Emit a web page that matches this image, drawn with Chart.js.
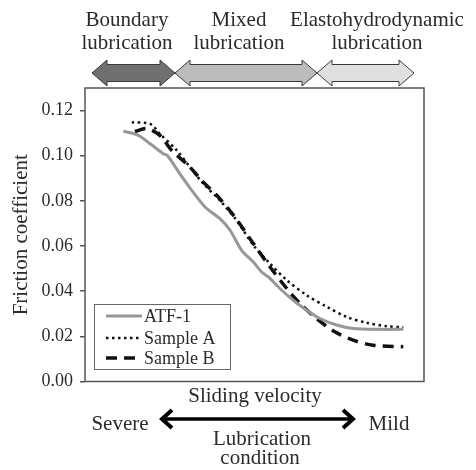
<!DOCTYPE html>
<html>
<head>
<meta charset="utf-8">
<script src="https://cdn.jsdelivr.net/npm/chart.js@4.4.0/dist/chart.umd.min.js"></script>
<style>
	html, body { margin: 0; padding: 0; background: #fff; }
	#wrap { width: 476px; height: 470px; }
</style>
</head>
<body>
<div id="wrap"><canvas id="chart" width="476" height="470"></canvas></div>
<script>
// Sliding velocity on an arbitrary 0-100 scale, friction coefficient
var atfX = [11.3, 15.7, 19.2, 23.1, 24.3, 28.0, 31.9, 35.4, 39.8, 42.8, 46.2, 49.6, 52.1, 54.1, 57.5, 61.4, 65.4, 69.3, 74.2, 79.1, 87.0, 93.9];
var atfY = [0.1109, 0.1090, 0.1053, 0.1009, 0.1001, 0.0920, 0.0839, 0.0773, 0.0721, 0.0670, 0.0581, 0.0530, 0.0485, 0.0463, 0.0412, 0.0360, 0.0316, 0.0279, 0.0250, 0.0235, 0.0231, 0.0231];

var sampleAX = [13.8, 19.2, 22.1, 27.1, 31.0, 34.9, 39.8, 44.7, 49.6, 54.6, 59.5, 65.4, 71.3, 77.2, 83.1, 89.0, 93.9];
var sampleAY = [0.1148, 0.1141, 0.1097, 0.1023, 0.0949, 0.0876, 0.0802, 0.0714, 0.0605, 0.0522, 0.0449, 0.0382, 0.0331, 0.0286, 0.0260, 0.0245, 0.0240];

var sampleBX = [14.7, 18.2, 22.1, 25.6, 30.5, 34.4, 39.3, 44.2, 49.6, 54.6, 59.5, 63.4, 68.3, 73.7, 79.1, 85.0, 93.9];
var sampleBY = [0.1107, 0.1120, 0.1090, 0.1023, 0.0957, 0.0891, 0.0817, 0.0728, 0.0612, 0.0507, 0.0412, 0.0346, 0.0279, 0.0220, 0.0183, 0.0161, 0.0154];

var seriesNames = ['ATF-1', 'Sample A', 'Sample B'];
var yTicks = [0, 0.02, 0.04, 0.06, 0.08, 0.10, 0.12];
var regimeLabels = [['Boundary', 'lubrication'], ['Mixed', 'lubrication'], ['Elastohydrodynamic', 'lubrication']];

var SERIF = "'Liberation Serif', 'Times New Roman', serif";
var TEXT = '#2b2b2b';

function pairs(xs, ys) {
	return xs.map(function (x, i) { return { x: x, y: ys[i] }; });
}

// ——— Decorations: frame, legend, regime arrows, bottom labels ———
function arrowPath(ctx, x0, x1, cy, shaftH, headH, headL) {
	ctx.beginPath();
	ctx.moveTo(x0, cy);
	ctx.lineTo(x0 + headL, cy - headH);
	ctx.lineTo(x0 + headL, cy - shaftH);
	ctx.lineTo(x1 - headL, cy - shaftH);
	ctx.lineTo(x1 - headL, cy - headH);
	ctx.lineTo(x1, cy);
	ctx.lineTo(x1 - headL, cy + headH);
	ctx.lineTo(x1 - headL, cy + shaftH);
	ctx.lineTo(x0 + headL, cy + shaftH);
	ctx.lineTo(x0 + headL, cy + headH);
	ctx.closePath();
}

var decor = {
	id: 'decor',
	afterDatasetsDraw: function (chart) {
		var ctx = chart.ctx;
		var a = chart.chartArea;
		ctx.save();

		// plot frame
		ctx.strokeStyle = '#555';
		ctx.lineWidth = 1.5;
		ctx.strokeRect(a.left, a.top, a.right - a.left, a.bottom - a.top);

		// legend box
		var lx = 94, ly = 304, lw = 136, lh = 65;
		ctx.fillStyle = '#fff';
		ctx.fillRect(lx, ly, lw, lh);
		ctx.strokeStyle = '#666';
		ctx.lineWidth = 1;
		ctx.strokeRect(lx + 0.5, ly + 0.5, lw, lh);
		var rows = [316, 338, 358];
		chart.data.datasets.forEach(function (ds, i) {
			ctx.save();
			ctx.strokeStyle = ds.borderColor;
			ctx.lineWidth = ds.borderWidth;
			ctx.setLineDash(ds.borderDash || []);
			ctx.beginPath();
			ctx.moveTo(106, rows[i]);
			ctx.lineTo(142, rows[i]);
			ctx.stroke();
			ctx.restore();
			ctx.fillStyle = TEXT;
			ctx.font = '18px ' + SERIF;
			ctx.textAlign = 'left';
			ctx.textBaseline = 'middle';
			ctx.fillText(ds.label, 144, rows[i] + 1);
		});

		// regime arrows above the plot
		var arrows = [
			{ x0: 92, x1: 175, fill: '#707070' },
			{ x0: 175, x1: 317, fill: '#bcbcbc' },
			{ x0: 317, x1: 414, fill: '#e0e0e0' }
		];
		arrows.forEach(function (ar) {
			arrowPath(ctx, ar.x0, ar.x1, 73, 8.5, 13, 15);
			ctx.fillStyle = ar.fill;
			ctx.fill();
			ctx.strokeStyle = '#3a3a3a';
			ctx.lineWidth = 1;
			ctx.stroke();
		});

		ctx.fillStyle = TEXT;
		ctx.font = '21px ' + SERIF;
		ctx.textAlign = 'center';
		ctx.textBaseline = 'alphabetic';
		var centers = [127, 239, 377];
		regimeLabels.forEach(function (lines, i) {
			ctx.fillText(lines[0], centers[i], 26);
			ctx.fillText(lines[1], centers[i], 49);
		});

		// bottom labels
		ctx.fillText('Sliding velocity', 255, 402);
		ctx.fillText('Severe', 120, 430);
		ctx.fillText('Mild', 389, 430);
		ctx.fillText('Lubrication', 262, 445);
		ctx.fillText('condition', 260, 464);

		// double arrow for lubrication condition
		ctx.strokeStyle = '#000';
		ctx.lineWidth = 3.5;
		ctx.lineJoin = 'miter';
		ctx.lineCap = 'butt';
		ctx.beginPath();
		ctx.moveTo(163, 419);
		ctx.lineTo(352, 419);
		ctx.stroke();
		ctx.lineWidth = 4;
		ctx.beginPath();
		ctx.moveTo(172, 410);
		ctx.lineTo(162, 419);
		ctx.lineTo(172, 428);
		ctx.moveTo(343, 410);
		ctx.lineTo(353, 419);
		ctx.lineTo(343, 428);
		ctx.stroke();

		ctx.restore();
	}
};

var datasets = [
	{
		label: seriesNames[0],
		data: pairs(atfX, atfY),
		borderColor: '#979797',
		borderWidth: 3,
		borderDash: []
	},
	{
		label: seriesNames[1],
		data: pairs(sampleAX, sampleAY),
		borderColor: '#111',
		borderWidth: 2.5,
		borderDash: [2.5, 3.5]
	},
	{
		label: seriesNames[2],
		data: pairs(sampleBX, sampleBY),
		borderColor: '#111',
		borderWidth: 3.5,
		borderDash: [11, 7]
	}
];

datasets.forEach(function (ds) {
	ds.pointRadius = 0;
	ds.tension = 0.3;
	ds.fill = false;
});

new Chart(document.getElementById('chart').getContext('2d'), {
	type: 'line',
	data: { datasets: datasets },
	options: {
		responsive: false,
		animation: false,
		layout: { padding: { left: 0, top: 88, right: 52, bottom: 88.5 } },
		plugins: {
			legend: { display: false },
			tooltip: { enabled: false }
		},
		scales: {
			x: {
				type: 'linear',
				min: 0,
				max: 100,
				display: false
			},
			y: {
				min: 0,
				max: 0.13,
				afterFit: function (scale) { scale.width = 85; },
				afterBuildTicks: function (scale) {
					scale.ticks = yTicks.map(function (v) { return { value: v }; });
				},
				border: { display: false },
				grid: {
					drawOnChartArea: false,
					drawTicks: true,
					tickLength: 5,
					color: '#555',
					lineWidth: 1.5
				},
				ticks: {
					padding: 7,
					color: TEXT,
					font: { family: SERIF, size: 18 },
					callback: function (v) { return Number(v).toFixed(2); }
				},
				title: {
					display: true,
					text: 'Friction coefficient',
					color: TEXT,
					font: { family: SERIF, size: 21 },
					padding: { top: 9, bottom: 0 }
				}
			}
		}
	},
	plugins: [decor]
});
</script>
</body>
</html>
